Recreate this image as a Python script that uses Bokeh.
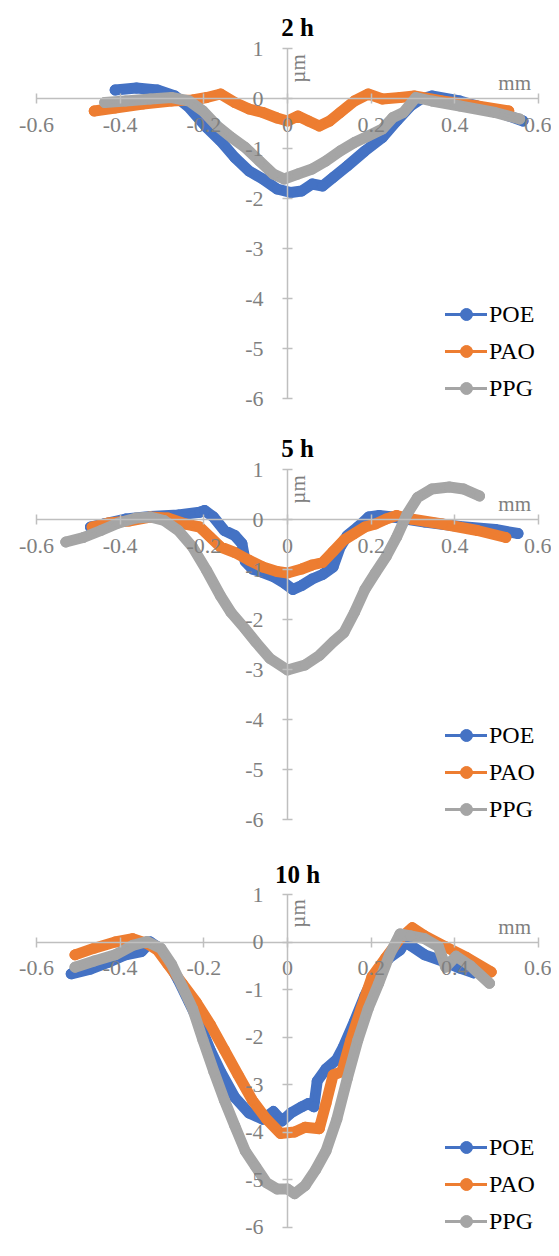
import math
from bokeh.plotting import figure
from bokeh.models import Range1d, Legend, LegendItem, Label, FixedTicker
from bokeh.layouts import column
from bokeh.embed import file_html
from bokeh.resources import INLINE

# ---------------- data ----------------
series_names = ["POE", "PAO", "PPG"]
series_colors = ["#4472C4", "#ED7D31", "#A5A5A5"]
panel_titles = ["2 h", "5 h", "10 h"]

x_ticks = [-0.6, -0.4, -0.2, 0.0, 0.2, 0.4, 0.6]
x_tick_labels = ["-0.6", "-0.4", "-0.2", "0", "0.2", "0.4", "0.6"]
y_ticks = [-6, -5, -4, -3, -2, -1, 0, 1]
y_tick_labels = ["-6", "-5", "-4", "-3", "-2", "-1", "0", "1"]
x_unit = "mm"
y_unit = "µm"

# 2 h
poe_2h_x = [-0.412, -0.361, -0.311, -0.269, -0.235, -0.193, -0.160, -0.126, -0.092, -0.059, -0.025, 0.008, 0.034, 0.059, 0.084, 0.109, 0.143, 0.185, 0.227, 0.261, 0.294, 0.319, 0.345, 0.412, 0.496, 0.563]
poe_2h_y = [0.17, 0.21, 0.17, 0.05, -0.18, -0.58, -0.85, -1.18, -1.45, -1.61, -1.81, -1.88, -1.85, -1.71, -1.75, -1.58, -1.35, -1.05, -0.78, -0.45, -0.15, -0.01, 0.05, -0.05, -0.25, -0.45]
pao_2h_x = [-0.462, -0.412, -0.345, -0.277, -0.227, -0.193, -0.160, -0.126, -0.092, -0.059, -0.025, 0.0, 0.025, 0.050, 0.076, 0.101, 0.126, 0.160, 0.193, 0.227, 0.269, 0.303, 0.370, 0.454, 0.529]
pao_2h_y = [-0.25, -0.19, -0.11, -0.05, -0.03, 0.02, 0.09, -0.08, -0.21, -0.28, -0.39, -0.45, -0.35, -0.45, -0.55, -0.45, -0.28, -0.05, 0.09, -0.01, 0.02, 0.05, -0.05, -0.15, -0.25]
ppg_2h_x = [-0.437, -0.387, -0.328, -0.277, -0.235, -0.202, -0.168, -0.134, -0.101, -0.067, -0.034, -0.008, 0.025, 0.059, 0.092, 0.126, 0.160, 0.193, 0.227, 0.252, 0.277, 0.307, 0.345, 0.412, 0.496, 0.555]
ppg_2h_y = [-0.08, -0.05, -0.01, 0.02, -0.05, -0.25, -0.55, -0.78, -0.98, -1.25, -1.51, -1.61, -1.51, -1.41, -1.25, -1.05, -0.88, -0.75, -0.61, -0.38, -0.28, 0.02, -0.05, -0.15, -0.28, -0.41]

# 5 h
poe_5h_x = [-0.471, -0.438, -0.387, -0.328, -0.261, -0.210, -0.198, -0.177, -0.151, -0.126, -0.109, -0.101, -0.084, -0.059, -0.034, -0.008, 0.013, 0.034, 0.059, 0.084, 0.109, 0.126, 0.143, 0.168, 0.194, 0.219, 0.252, 0.328, 0.412, 0.497, 0.551]
poe_5h_y = [-0.15, -0.085, 0.01, 0.06, 0.09, 0.145, 0.18, 0.05, -0.22, -0.32, -0.48, -0.84, -0.99, -1.06, -1.14, -1.27, -1.40, -1.32, -1.19, -1.10, -0.95, -0.55, -0.32, -0.15, 0.05, 0.08, 0.05, -0.05, -0.14, -0.20, -0.28]
pao_5h_x = [-0.467, -0.429, -0.379, -0.328, -0.286, -0.244, -0.210, -0.185, -0.160, -0.126, -0.093, -0.059, -0.025, 0.0, 0.034, 0.059, 0.084, 0.109, 0.135, 0.160, 0.185, 0.210, 0.236, 0.261, 0.295, 0.370, 0.454, 0.522]
pao_5h_y = [-0.15, -0.07, -0.03, 0.05, 0.03, -0.09, -0.15, -0.35, -0.55, -0.66, -0.81, -0.95, -1.04, -1.07, -0.99, -0.91, -0.86, -0.64, -0.41, -0.28, -0.15, -0.09, 0.01, 0.08, 0.01, -0.09, -0.22, -0.36]
ppg_5h_x = [-0.530, -0.488, -0.446, -0.404, -0.362, -0.328, -0.295, -0.261, -0.227, -0.194, -0.160, -0.135, -0.101, -0.076, -0.042, 0.0, 0.042, 0.076, 0.109, 0.135, 0.160, 0.185, 0.210, 0.236, 0.261, 0.286, 0.311, 0.345, 0.387, 0.421, 0.459]
ppg_5h_y = [-0.45, -0.36, -0.22, -0.07, 0.03, 0.05, -0.02, -0.22, -0.55, -1.01, -1.53, -1.86, -2.19, -2.45, -2.78, -3.01, -2.91, -2.72, -2.45, -2.26, -1.86, -1.40, -1.07, -0.74, -0.35, 0.11, 0.44, 0.61, 0.65, 0.61, 0.47]

# 10 h
poe_10h_x = [-0.517, -0.471, -0.429, -0.387, -0.349, -0.328, -0.311, -0.286, -0.261, -0.235, -0.210, -0.185, -0.160, -0.126, -0.092, -0.059, -0.034, -0.013, 0.008, 0.034, 0.050, 0.063, 0.071, 0.092, 0.118, 0.134, 0.160, 0.185, 0.210, 0.244, 0.269, 0.286, 0.294, 0.328, 0.370, 0.412, 0.445]
poe_10h_y = [-0.67, -0.57, -0.43, -0.27, -0.20, 0.0, -0.10, -0.40, -0.80, -1.27, -1.73, -2.27, -2.73, -3.27, -3.60, -3.73, -3.57, -3.77, -3.60, -3.47, -3.40, -3.47, -2.93, -2.67, -2.47, -2.20, -1.67, -1.13, -0.67, -0.33, -0.17, 0.07, -0.07, -0.27, -0.40, -0.55, -0.65]
pao_10h_x = [-0.508, -0.462, -0.412, -0.370, -0.336, -0.311, -0.286, -0.252, -0.218, -0.185, -0.151, -0.118, -0.084, -0.050, -0.017, 0.017, 0.042, 0.076, 0.092, 0.109, 0.130, 0.151, 0.176, 0.202, 0.235, 0.269, 0.298, 0.328, 0.378, 0.429, 0.487]
pao_10h_y = [-0.27, -0.13, 0.0, 0.07, -0.03, -0.17, -0.47, -0.87, -1.27, -1.73, -2.27, -2.80, -3.33, -3.73, -4.03, -4.00, -3.90, -3.93, -3.40, -2.80, -2.73, -2.07, -1.40, -0.73, -0.33, 0.07, 0.30, 0.13, -0.10, -0.33, -0.63]
ppg_10h_x = [-0.508, -0.462, -0.412, -0.370, -0.336, -0.303, -0.277, -0.252, -0.227, -0.202, -0.176, -0.151, -0.126, -0.101, -0.076, -0.050, -0.025, 0.0, 0.017, 0.042, 0.067, 0.092, 0.118, 0.143, 0.168, 0.193, 0.218, 0.244, 0.269, 0.294, 0.328, 0.361, 0.378, 0.403, 0.437, 0.483]
ppg_10h_y = [-0.53, -0.40, -0.27, -0.07, 0.01, -0.13, -0.47, -0.93, -1.40, -2.07, -2.73, -3.33, -3.87, -4.40, -4.73, -5.07, -5.20, -5.20, -5.30, -5.13, -4.80, -4.40, -3.73, -2.87, -2.07, -1.40, -0.87, -0.27, 0.17, 0.13, 0.07, -0.10, -0.53, -0.30, -0.50, -0.87]

panels_data = [
    [(poe_2h_x, poe_2h_y), (pao_2h_x, pao_2h_y), (ppg_2h_x, ppg_2h_y)],
    [(poe_5h_x, poe_5h_y), (pao_5h_x, pao_5h_y), (ppg_5h_x, ppg_5h_y)],
    [(poe_10h_x, poe_10h_y), (pao_10h_x, pao_10h_y), (ppg_10h_x, ppg_10h_y)],
]

# ---------------- layout / style ----------------
FONT = "Liberation Serif"
AXIS_COLOR = "#BFBFBF"
TICK_TEXT = "#7F7F7F"
W = 551
X_ZERO_PX = 287.0      # pixel of x = 0 inside the frame
PX_PER_X = 418.3       # pixels per mm
X_RANGE = (-X_ZERO_PX / PX_PER_X, (W - X_ZERO_PX) / PX_PER_X)

heights = [421, 427, 392]
px_per_y = [50.0, 50.0, 47.5]
top_to_one = [48.0, 48.0, 46.0]   # pixels from frame top to y = 1
legend_bottoms = [18, 24, 4]


def make_panel(title, data, height, ppy, t1, legend_bottom):
    y_top = 1 + t1 / ppy
    y_bottom = y_top - height / ppy
    p = figure(width=W, height=height, x_range=Range1d(*X_RANGE),
               y_range=Range1d(y_bottom, y_top), output_backend="svg",
               toolbar_location=None, min_border=0)
    p.outline_line_color = None
    p.grid.visible = False
    p.background_fill_color = "white"
    p.border_fill_color = "white"

    xa = p.xaxis[0]
    ya = p.yaxis[0]
    xa.fixed_location = 0
    ya.fixed_location = 0
    xa.ticker = FixedTicker(ticks=x_ticks)
    ya.ticker = FixedTicker(ticks=y_ticks)
    xa.major_label_overrides = {t: s for t, s in zip(x_ticks, x_tick_labels)}
    ya.major_label_overrides = {t: s for t, s in zip(y_ticks, y_tick_labels)}
    xa.bounds = (x_ticks[0], x_ticks[-1])
    ya.bounds = (y_ticks[0], y_ticks[-1])
    for ax in (xa, ya):
        ax.axis_line_color = AXIS_COLOR
        ax.axis_line_width = 1.5
        ax.major_tick_line_color = AXIS_COLOR
        ax.major_tick_line_width = 1.5
        ax.major_tick_in = 5
        ax.major_tick_out = 5
        ax.minor_tick_line_color = None
        ax.major_label_text_font = FONT
        ax.major_label_text_font_size = "22px"
        ax.major_label_text_color = TICK_TEXT
    xa.major_label_standoff = 14
    ya.major_label_standoff = 19

    items = []
    for (xs, ys), name, col in zip(data, series_names, series_colors):
        p.line(xs, ys, line_color=col, line_width=11,
               line_join="round", line_cap="round")
        thin = p.line(xs, ys, line_color=col, line_width=3,
                      line_join="round", line_cap="round")
        dots = p.scatter(xs, ys, marker="circle", size=10,
                         fill_color=col, line_color=col)
        items.append(LegendItem(label=name, renderers=[thin, dots]))

    legend = Legend(items=items, location=(445, legend_bottom),
                    glyph_width=42, glyph_height=30, label_height=30,
                    spacing=7, padding=0, margin=0, label_standoff=2,
                    background_fill_alpha=0, border_line_alpha=0,
                    label_text_font=FONT, label_text_font_size="24px",
                    label_text_color="black", label_text_baseline="middle")
    p.add_layout(legend)

    p.add_layout(Label(x=0.024, y=1.42, text=title, text_align="center",
                       text_baseline="middle", text_font=FONT,
                       text_font_size="25px", text_font_style="bold",
                       text_color="black"))
    p.add_layout(Label(x=0.543, y=0.32, text=x_unit, text_align="center",
                       text_baseline="middle", text_font=FONT,
                       text_font_size="21px", text_color=TICK_TEXT))
    p.add_layout(Label(x=0.026, y=0.6, text=y_unit, angle=math.pi / 2,
                       text_align="center", text_baseline="middle",
                       text_font=FONT, text_font_size="21px",
                       text_color=TICK_TEXT))
    return p


figs = [make_panel(t, d, h, s, t1, lb) for t, d, h, s, t1, lb in
        zip(panel_titles, panels_data, heights, px_per_y, top_to_one,
            legend_bottoms)]
layout = column(*figs, spacing=0)

open("out.html", "w").write(file_html(layout, INLINE))
